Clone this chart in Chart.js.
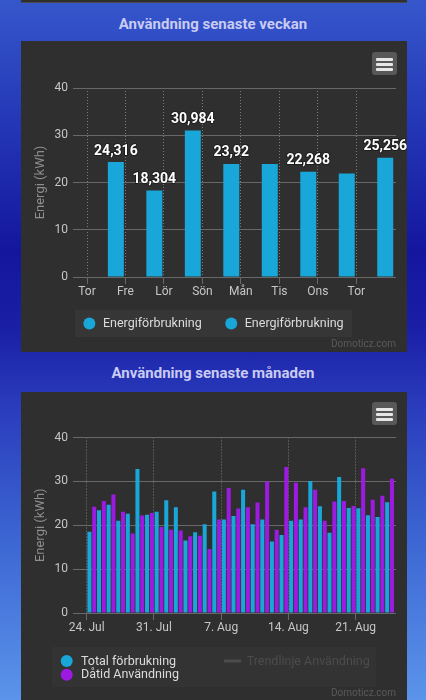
<!DOCTYPE html>
<html><head><meta charset="utf-8">
<script src="https://cdn.jsdelivr.net/npm/chart.js@4.4.0/dist/chart.umd.min.js"></script>
<style>
html,body{margin:0;padding:0;}
body{width:426px;height:700px;overflow:hidden;position:relative;font-family:Roboto,"Noto Sans",sans-serif;
background:linear-gradient(180deg,#3657cc 0%,#2438b6 17%,#14169e 36%,#1a1fa6 47%,#2a3cbc 58%,#3d68d4 78%,#5b94ea 100%);}
.title{position:absolute;left:0;width:426px;text-align:center;color:#c9cbf2;font-weight:bold;font-size:15px;line-height:15px;white-space:nowrap;}
.panel{position:absolute;left:21px;width:386px;background:#2f2f2f;}
.menu{position:absolute;left:351px;width:25px;height:23px;background:#585858;border-radius:3px;}
.menu i{position:absolute;left:4px;width:17px;height:3px;background:#e6e6e6;border-radius:1px;}
canvas{position:absolute;left:0;top:0;}
</style></head>
<body>
<div class="panel" style="top:-20px;height:22px;border-bottom:1px solid #4a4a4a"></div>
<div class="title" style="top:17px">Användning senaste veckan</div>
<div class="panel" style="top:41px;height:311px"><canvas id="c1" width="386" height="311"></canvas>
  <div class="menu" style="top:11px"><i style="top:6px"></i><i style="top:11px"></i><i style="top:16px"></i></div></div>
<div class="title" style="top:366px">Användning senaste månaden</div>
<div class="panel" style="top:392px;height:320px"><canvas id="c2" width="386" height="320"></canvas>
  <div class="menu" style="top:10px"><i style="top:6px"></i><i style="top:11px"></i><i style="top:16px"></i></div></div>
<script>
// ---- data ----
const weekLabels = ['Tor','Fre','Lör','Sön','Mån','Tis','Ons','Tor'];
const weekValues = [24.316, 18.304, 30.984, 23.92, 23.9, 22.268, 21.9, 25.256];
const weekValueLabels = ['24,316','18,304','30,984','23,92','','22,268','','25,256'];
const weekSeriesName = 'Energiförbrukning';

const monthTickLabels = ['24. Jul','31. Jul','7. Aug','14. Aug','21. Aug'];
const monthTotal = [18.5, 23.4, 24.7, 21.0, 22.6, 32.8, 22.4, 23.1, 25.7, 24.1, 16.5, 18.4, 20.2, 27.7, 21.3, 22.1,
                    28.1, 20.2, 21.3, 16.3, 17.8, 21.0, 21.3, 30.1, 24.316, 18.304, 30.984, 23.92, 23.9, 22.268, 21.9, 25.256];
const monthThen  = [24.2, 25.5, 27.0, 23.1, 18.1, 22.2, 22.8, 19.6, 19.0, 18.8, 17.5, 17.6, 14.6, 21.3, 28.5, 23.8,
                    24.1, 25.2, 30.0, 19.0, 33.3, 29.7, 24.1, 28.1, 21.0, 25.4, 25.5, 24.4, 33.0, 25.8, 26.7, 30.6];
const monthSeries = ['Total förbrukning','Dåtid Användning','Trendlinje Användning'];
const yTicks = [0, 10, 20, 30, 40];
const yTitle = 'Energi (kWh)';

// ---- style ----
const FONT = 'Roboto, "Noto Sans", sans-serif';
const BLUE = '#19a6d8';
const PURPLE = '#9d1ae2';
const GRID = '#686868';
const VGRID = '#7c7c7c';

function circle(ctx, x, y, r, c) { ctx.beginPath(); ctx.arc(x, y, r, 0, Math.PI * 2); ctx.fillStyle = c; ctx.fill(); }
function credit(ctx, y) {
  ctx.font = '10px ' + FONT; ctx.fillStyle = '#5a5a5a'; ctx.textAlign = 'right'; ctx.textBaseline = 'alphabetic';
  ctx.fillText('Domoticz.com', 375, y);
}

function axes(xMin, xMax, tickVals, tickText, xHeight) {
  return {
    x: {
      type: 'linear', min: xMin, max: xMax, offset: false,
      afterBuildTicks: s => { s.ticks = tickVals.map(v => ({ value: v })); },
      afterFit: s => { s.height = xHeight; },
      ticks: { callback: (v) => tickText[tickVals.indexOf(v)], color: '#c6c6c6', font: { size: 12, family: FONT },
               padding: 1, maxRotation: 0, autoSkip: false },
      grid: { color: VGRID, tickColor: GRID, tickLength: 7, offset: false },
      border: { display: false, dash: [1, 2] }
    },
    y: {
      min: 0, max: 40,
      afterBuildTicks: s => { s.ticks = yTicks.map(v => ({ value: v })); },
      afterFit: s => { s.width = 52; },
      ticks: { color: '#c6c6c6', font: { size: 12, family: FONT }, padding: 5 },
      grid: { color: GRID, drawTicks: false },
      border: { display: false },
      title: { display: true, text: yTitle, color: '#8e8e8e', font: { size: 13, family: FONT }, padding: { top: 12, bottom: 0 } }
    }
  };
}

const valueLabels = {
  id: 'valueLabels',
  afterDatasetsDraw(chart) {
    const ctx = chart.ctx, meta = chart.getDatasetMeta(0);
    ctx.save();
    ctx.font = 'bold 14px ' + FONT; ctx.textAlign = 'center'; ctx.textBaseline = 'alphabetic';
    ctx.lineWidth = 2; ctx.lineJoin = 'round'; ctx.strokeStyle = 'rgba(0,0,0,0.35)'; ctx.fillStyle = '#ffffff';
    meta.data.forEach((el, i) => {
      const t = weekValueLabels[i]; if (!t) return;
      ctx.strokeText(t, el.x, el.y - 7.5); ctx.fillText(t, el.x, el.y - 7.5);
    });
    ctx.restore();
  }
};

const weekLegend = {
  id: 'weekLegend',
  afterDraw(chart) {
    const ctx = chart.ctx; ctx.save();
    ctx.fillStyle = '#363636'; ctx.fillRect(54, 269, 277, 27);
    ctx.font = '12.5px ' + FONT; ctx.textBaseline = 'middle'; ctx.textAlign = 'left';
    const ds = chart.data.datasets;
    const w = ds.map(d => 19.5 + ctx.measureText(d.label).width);
    const total = w.reduce((a, b) => a + b, 0) + 23.5 * (ds.length - 1);
    let x = 192.5 - total / 2; const y = 282.5;
    ds.forEach((d, i) => {
      circle(ctx, x + 6, y, 6, d.backgroundColor);
      ctx.fillStyle = '#dcdcdc'; ctx.fillText(d.label, x + 19.5, y + 0.5);
      x += w[i] + 23.5;
    });
    credit(ctx, 306);
    ctx.restore();
  }
};

const monthLegend = {
  id: 'monthLegend',
  afterDraw(chart) {
    const ctx = chart.ctx; ctx.save();
    ctx.fillStyle = '#333333'; ctx.fillRect(31, 255, 324, 40);
    ctx.font = '12.5px ' + FONT; ctx.textBaseline = 'middle'; ctx.textAlign = 'left';
    const ds = chart.data.datasets;
    circle(ctx, 45.7, 269, 6, ds[0].backgroundColor);
    ctx.fillStyle = '#dcdcdc'; ctx.fillText(ds[0].label, 60, 269.5);
    circle(ctx, 45.7, 282.7, 6, ds[1].backgroundColor);
    ctx.fillStyle = '#dcdcdc'; ctx.fillText(ds[1].label, 60, 283.2);
    ctx.fillStyle = '#4c4c4c'; ctx.fillRect(203, 267.5, 17, 3);
    ctx.fillStyle = '#4c4c4c'; ctx.fillText(ds[2].label, 225.7, 269.5);
    credit(ctx, 304);
    ctx.restore();
  }
};

new Chart(document.getElementById('c1'), {
  type: 'bar',
  data: {
    datasets: [
      { label: weekSeriesName, data: weekValues.map((v, i) => ({ x: i + 0.75, y: v })), backgroundColor: BLUE,
        grouped: false, maxBarThickness: 16 },
      { label: weekSeriesName, data: [], backgroundColor: BLUE, grouped: false }
    ]
  },
  options: {
    responsive: false, animation: false, devicePixelRatio: 1,
    layout: { padding: { left: 0, right: 11, top: 47, bottom: 0 } },
    scales: axes(-0.364, 8.03, weekLabels.map((_, i) => i), weekLabels, 75),
    plugins: { legend: { display: false }, tooltip: { enabled: false } }
  },
  plugins: [valueLabels, weekLegend]
});

new Chart(document.getElementById('c2'), {
  type: 'bar',
  data: {
    datasets: [
      { label: monthSeries[0], data: monthTotal.map((v, i) => ({ x: i + 0.53, y: v })), backgroundColor: BLUE,
        categoryPercentage: 1, barPercentage: 0.84 },
      { label: monthSeries[1], data: monthThen.map((v, i) => ({ x: i + 0.53, y: v })), backgroundColor: PURPLE,
        categoryPercentage: 1, barPercentage: 0.84 },
      { type: 'line', label: monthSeries[2], data: [], hidden: true, borderColor: '#4c4c4c' }
    ]
  },
  options: {
    responsive: false, animation: false, devicePixelRatio: 1,
    layout: { padding: { left: 0, right: 11, top: 45.5, bottom: 0 } },
    scales: axes(-1.43, 32.2, [0, 7, 14, 21, 28], monthTickLabels, 99),
    plugins: { legend: { display: false }, tooltip: { enabled: false } }
  },
  plugins: [monthLegend]
});
</script>
</body></html>
